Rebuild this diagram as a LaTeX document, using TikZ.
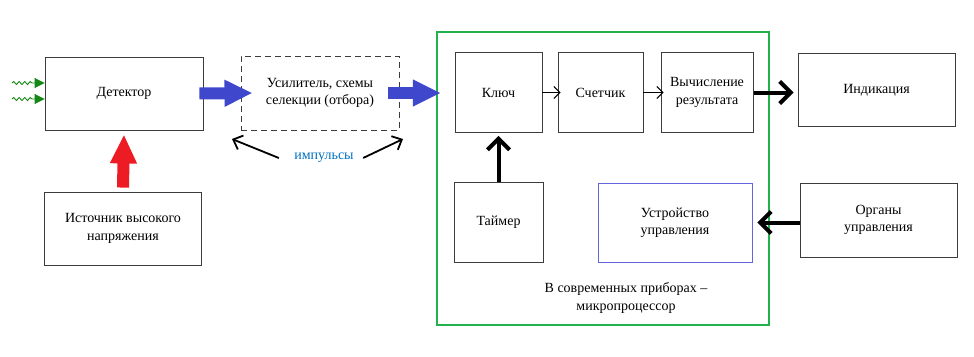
\documentclass[tikz,border=0pt]{standalone}
\usepackage{fontspec}
\setmainfont{Liberation Serif}
\newfontfamily\diagfont{Liberation Serif}
\usetikzlibrary{arrows.meta,decorations.pathmorphing,calc}
\definecolor{bboxline}{RGB}{60,60,60}
\definecolor{arrblue}{RGB}{63,72,204}
\definecolor{arrred}{RGB}{237,28,36}
\definecolor{mpgreen}{RGB}{34,177,76}
\definecolor{wavegreen}{RGB}{20,135,20}
\definecolor{ustrblue}{RGB}{100,100,220}
\definecolor{impblue}{RGB}{0,112,192}
\begin{document}
\begin{tikzpicture}[x=1pt,y=-1pt,
  font=\diagfont\fontsize{14}{17.5}\selectfont,
  box/.style={draw=bboxline, line width=0.9pt, align=center, inner sep=0pt},
  bluearrow/.style={arrblue, line width=12pt, -{Triangle[length=28pt,width=25pt]}},
  redarrow/.style={arrred, line width=12pt, -{Triangle[length=29pt,width=25pt]}},
  thickarrow/.style={black, line width=4pt, -{Straight Barb[length=11pt,width=22pt]}},
  medarrow/.style={black, line width=1.8pt, -{Straight Barb[length=8pt,width=15pt]}},
  thinarrow/.style={black, line width=1.1pt, -{Straight Barb[length=6pt,width=12pt]}},
  wavearrow/.style={wavegreen, line width=0.9pt, decorate,
     decoration={snake, amplitude=1.5pt, segment length=5.5pt, post length=10pt},
     -{Triangle[length=10pt,width=10pt]}}
]
\useasboundingbox (0,0) rectangle (974,356);
\fill[white] (0,0) rectangle (974,356);

% green microprocessor frame
\node[draw=mpgreen, line width=2.2pt, minimum width=332pt, minimum height=293pt, inner sep=0pt] (mp) at (603,178.5) {};
\node[align=center] (mptext) at (626,298) {В современных приборах –\\микропроцессор};

% boxes
\node[box, minimum width=158pt, minimum height=73pt] (det) at (124,93.5) {Детектор};
\node[box, minimum width=157pt, minimum height=73pt] (ist) at (123,228.5) {Источник высокого\\напряжения};
\node[box, draw=bboxline, dash pattern=on 6pt off 4pt, minimum width=158pt, minimum height=74pt] (usil) at (320,93) {Усилитель, схемы\\селекции (отбора)};
\node[box, minimum width=87pt, minimum height=80pt] (klyuch) at (498.5,92.5) {Ключ};
\node[box, minimum width=85pt, minimum height=80pt] (schet) at (600.5,92.5) {Счетчик};
\node[box, minimum width=92pt, minimum height=80pt] (vych) at (707,92.5) {Вычисление\\результата};
\node[box, minimum width=157pt, minimum height=73pt] (ind) at (876.5,90) {Индикация};
\node[box, minimum width=89pt, minimum height=80pt] (taimer) at (498.5,222) {Таймер};
\node[box, draw=ustrblue, line width=0.7pt, minimum width=154pt, minimum height=79pt] (ustr) at (675,222.5) {Устройство\\управления};
\node[box, minimum width=157pt, minimum height=74pt] (org) at (878.5,220) {Органы\\управления};

\node[text=impblue] (imp) at (324,158) {импульсы};

% block arrows
\draw[bluearrow] ([xshift=-4pt]det.east) -- ([xshift=12pt]usil.west);
\draw[bluearrow] ([xshift=-11pt]usil.east) -- ([xshift=5pt]mp.west |- usil.east);
\draw[redarrow] ([yshift=4pt]ist.north) -- ([yshift=-4pt]det.south);

% black arrows
\draw[thinarrow] (klyuch.east) -- ([xshift=3pt]schet.west);
\draw[thinarrow] (schet.east) -- ([xshift=3pt]vych.west);
\draw[thickarrow] ([xshift=1pt]vych.east) -- ([xshift=-4pt]ind.west |- vych.east);
\draw[thickarrow] (taimer.north) -- ([yshift=-3pt]klyuch.south);
\draw[thickarrow] (org.west |- ustr.east) -- ([xshift=5pt]ustr.east);

\coordinate (il) at (232,139);
\coordinate (ir) at (403,139);
\draw[medarrow] ([xshift=-12pt]imp.west) -- (il);
\draw[medarrow] ([xshift=6pt]imp.east) -- (ir);

% incoming radiation
\coordinate (w1) at (12,83);
\coordinate (w2) at (12,99);
\draw[wavearrow] (w1) -- (det.west |- w1);
\draw[wavearrow] (w2) -- (det.west |- w2);
\end{tikzpicture}
\end{document}
